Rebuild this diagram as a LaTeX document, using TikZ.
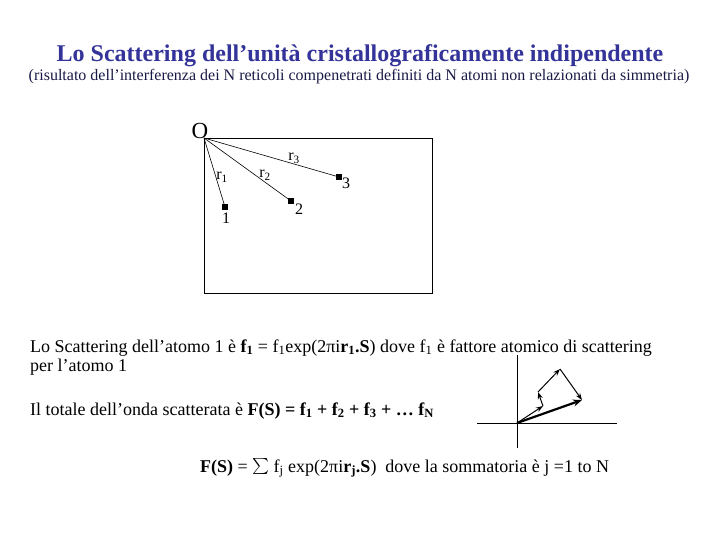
\documentclass[tikz,border=0pt]{standalone}
\usepackage{fontspec}
\setmainfont{Liberation Serif}
\usetikzlibrary{arrows.meta}
\definecolor{titleblue}{RGB}{51,51,153}
\definecolor{subnavy}{RGB}{25,25,70}
\tikzset{
  txt/.style={inner sep=0pt, anchor=base west, font=\fontsize{18}{20}\selectfont},
  atom/.style={fill=black, draw=none, minimum size=6pt, inner sep=0pt, rectangle},
  lbl/.style={inner sep=0pt, font=\fontsize{16}{18}\selectfont},
  vec/.style={-{Stealth[length=7pt,width=5pt]}, line width=1pt},
}
\begin{document}
\begin{tikzpicture}[x=1pt,y=-1pt]
\useasboundingbox (0,0) rectangle (720,540);
\node[inner sep=0pt, anchor=base, text=titleblue, font=\fontsize{24}{26}\selectfont\bfseries] (title) at (360,62) {Lo Scattering dell’unità cristallograficamente indipendente};
\node[inner sep=0pt, anchor=base, text=subnavy, font=\fontsize{16}{18}\selectfont] (sub) at (359,81) {(risultato dell’interferenza dei N reticoli compenetrati definiti da N atomi non relazionati da simmetria)};
% crystal cell
\coordinate (O) at (204,138);
\draw[line width=0.8pt] (O) rectangle (432,293);
\node[inner sep=0pt, font=\fontsize{23}{25}\selectfont] (Olbl) at (200,131) {O};
\node[atom] (a1) at (225,207) {};
\node[atom] (a2) at (291,201) {};
\node[atom] (a3) at (339,177) {};
\draw[line width=0.6pt] (O) -- (a1.center);
\draw[line width=0.6pt] (O) -- (a2.center);
\draw[line width=0.6pt] (O) -- (a3.center);
\node[lbl] (n1) at (226,218) {1};
\node[lbl] (n2) at (299,209) {2};
\node[lbl] (n3) at (346,183) {3};
\node[lbl] (r1) at (222,177) {r$_{\mathrm{1}}$};
\node[lbl] (r2) at (265,175) {r$_{\mathrm{2}}$};
\node[lbl] (r3) at (294,158) {r$_{\mathrm{3}}$};
% text
\node[txt] (t1) at (30,352) {Lo Scattering dell’atomo 1 è \textbf{f\textsubscript{1}} = f\textsubscript{1}exp(2πi\textbf{r\textsubscript{1}.S}) dove f\textsubscript{1} è fattore atomico di scattering};
\node[txt] (t2) at (30,371) {per l’atomo 1};
\node[txt] (t3) at (30,415) {Il totale dell’onda scatterata è \textbf{F(S) = f\textsubscript{1} + f\textsubscript{2} + f\textsubscript{3} + … f\textsubscript{N}}};
\node[txt] (t4) at (200,472) {\textbf{F(S)} = \raisebox{-1pt}{\scalebox{1.6}{$\sum$}} f\textsubscript{j} exp(2πi\textbf{r\textsubscript{j}.S})\enspace dove la sommatoria è j =1 to N};
% vector diagram
\coordinate (vo) at (517,423);
\coordinate (vt) at (517,355);
\coordinate (vb) at (517,448);
\coordinate (hl) at (477,423);
\coordinate (hr) at (617,423);
\draw[line width=0.7pt] (vt) -- (vb);
\draw[line width=0.7pt] (hl) -- (hr);
\coordinate (p1) at (543,406);
\coordinate (p2) at (538,392);
\coordinate (p3) at (560,369);
\coordinate (p4) at (582,400);
\draw[vec] (vo) -- (p1);
\draw[vec] (p1) -- (p2);
\draw[vec] (p2) -- (p3);
\draw[vec] (p3) -- (p4);
\draw[-{Stealth[length=9pt,width=7pt]}, line width=2.2pt] (vo) -- (p4);
\end{tikzpicture}
\end{document}
